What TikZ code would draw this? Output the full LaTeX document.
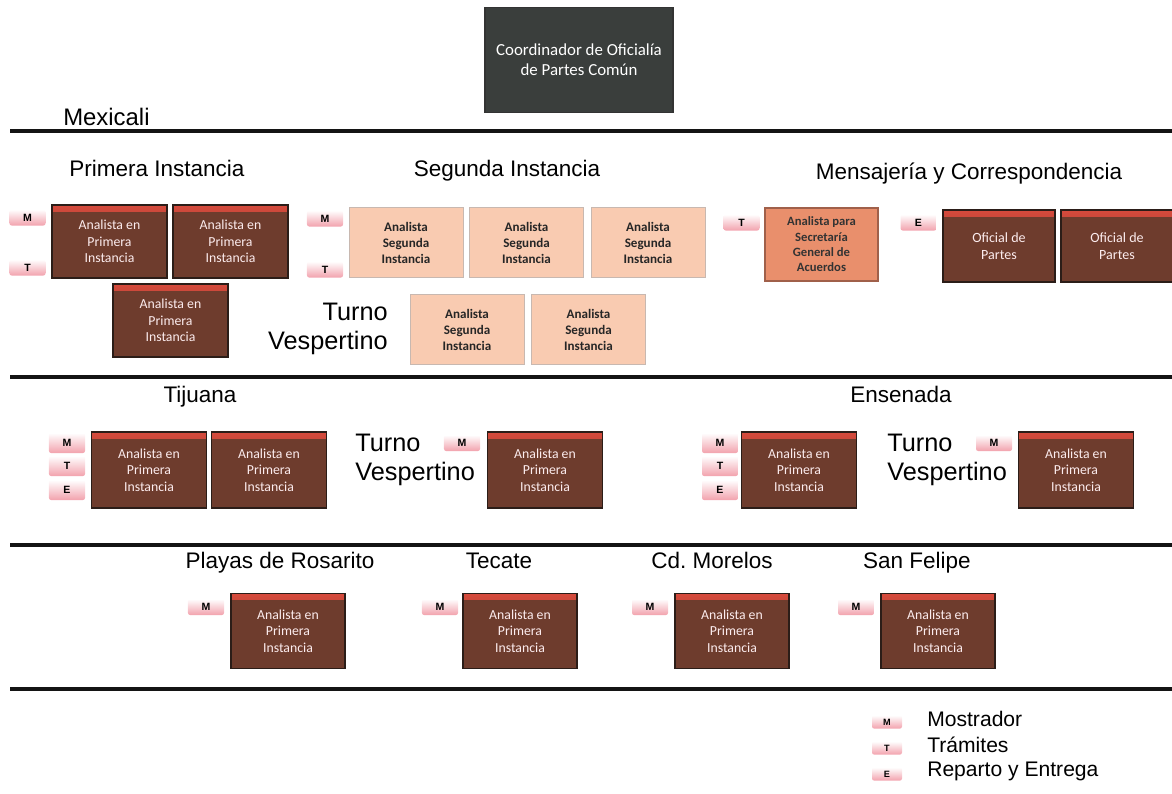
\documentclass[tikz,border=0pt]{standalone}
\usepackage{fontspec}
\setmainfont{Liberation Sans}
\newfontfamily\boxfamily{Carlito}
\usetikzlibrary{positioning}
\frenchspacing

\definecolor{boxbrown}{RGB}{110,60,45}
\definecolor{boxline}{RGB}{43,29,24}
\definecolor{boxred}{RGB}{214,74,60}
\definecolor{boxtext}{RGB}{252,236,238}
\definecolor{segfill}{RGB}{249,203,177}
\definecolor{segline}{RGB}{200,184,176}
\definecolor{sgafill}{RGB}{233,143,108}
\definecolor{sgaline}{RGB}{160,96,74}
\definecolor{coordfill}{RGB}{58,62,60}
\definecolor{badgepink}{RGB}{242,162,173}
\definecolor{sepline}{RGB}{20,20,20}

\begin{document}
\begin{tikzpicture}[x=0.025cm, y=-0.025cm,
    pbox/.style={draw=boxline, fill=boxbrown, line width=0.9pt, minimum width=2.875cm,
        minimum height=1.85cm, inner sep=1pt, align=center, text=boxtext,
        font=\boxfamily\fontsize{9.8}{11.7}\selectfont,
        path picture={\shade[top color=boxred, bottom color=boxbrown]
            (path picture bounding box.north west) rectangle ([yshift=-4.5pt]path picture bounding box.north east);}},
    segbox/.style={draw=segline, fill=segfill, line width=0.6pt, minimum width=2.85cm,
        minimum height=1.75cm, inner sep=1pt, align=center, text=black!85,
        font=\boxfamily\bfseries\fontsize{9.3}{11.4}\selectfont},
    badge/.style={top color=white, bottom color=badgepink, rounded corners=1.5pt,
        minimum width=0.9cm, minimum height=0.4cm, inner sep=0pt,
        font=\bfseries\fontsize{7.5}{7.5}\selectfont},
    keybadge/.style={badge, minimum width=0.75cm, minimum height=0.33cm,
        font=\bfseries\fontsize{6.5}{6.5}\selectfont},
    heading/.style={font=\fontsize{16}{19}\selectfont, text height=12pt, text depth=3.5pt},
    turno/.style={align=left, font=\fontsize{18}{21}\selectfont, inner sep=0pt},
    sep/.style={draw=sepline, line width=2.6pt}]

    \useasboundingbox (0,0) rectangle (1172,794);

    % Coordinator
    \node[draw=black!80, fill=coordfill, line width=0.9pt, minimum width=4.7cm, minimum height=2.625cm,
        align=center, text=white, font=\boxfamily\fontsize{12}{14.5}\selectfont]
        (coord) at (579,60) {Coordinador de Oficialía\\de Partes Común};

    % Separators
    \foreach \y in {131,377,545,689}
        \draw[sep] (10,\y) -- (1172,\y);

    \node[anchor=west, inner sep=0pt, font=\fontsize{17}{20}\selectfont] (mexicali) at (63,117) {Mexicali};

    % Mexicali - Primera Instancia
    \node[heading] (primera) at (157,171) {Primera Instancia};
    \node[badge] (pim) at (27.5,217.5) {M};
    \node[badge] (pit) at (27.5,267.5) {T};
    \foreach \n/\x/\y in {1/109.5/241.5, 2/230.5/241.5, 3/170.5/320.5}
        \node[pbox, minimum height=1.825cm] (pi\n) at (\x,\y) {Analista en\\Primera\\Instancia};

    % Mexicali - Segunda Instancia
    \node[heading] (segunda) at (507,171) {Segunda Instancia};
    \node[badge] (sim) at (325,218.5) {M};
    \node[badge] (sit) at (325,269.5) {T};
    \foreach \n/\x/\y in {1/406/242.5, 2/526.5/242.5, 3/648/242.5, 4/467/329.5, 5/588.5/329.5}
        \node[segbox] (si\n) at (\x,\y) {Analista\\Segunda\\Instancia};
    \node[turno, align=right, anchor=east] (turnoa) at (388,329) {Turno\\Vespertino};

    % Mexicali - Mensajeria
    \node[heading] (mensajeria) at (969,174) {Mensajería y Correspondencia};
    \node[badge] (mct) at (741.5,222.5) {T};
    \node[draw=sgaline, fill=sgafill, line width=0.9pt, minimum width=2.825cm, minimum height=1.825cm,
        inner sep=1pt, align=center, text=black!80, font=\boxfamily\bfseries\fontsize{9}{10.9}\selectfont]
        (sga) at (821.5,244.5) {Analista para\\Secretaría\\General de\\Acuerdos};
    \node[badge] (mce) at (918.5,222.5) {E};
    \foreach \n/\x in {1/999, 2/1117}
        \node[pbox, minimum width=2.8cm, minimum height=1.8cm,
            font=\boxfamily\fontsize{10}{12}\selectfont] (op\n) at (\x,246) {Oficial de\\Partes};

    % Tijuana
    \node[heading] (tijuana) at (200,397) {Tijuana};
    \foreach \l/\y in {M/443, T/466, E/490}
        \node[badge, minimum height=0.5cm] (tj\l) at (67,\y) {\l};
    \foreach \n/\x in {1/149, 2/269, 3/545}
        \node[pbox, minimum height=1.9cm] (tj\n) at (\x,470) {Analista en\\Primera\\Instancia};
    \node[turno, anchor=west] (turnob) at (355,460) {Turno\\Vespertino};
    \node[badge] (tjv) at (462,443) {M};

    % Ensenada
    \node[heading] (ensenada) at (901,397) {Ensenada};
    \foreach \l/\y in {M/443, T/466, E/490}
        \node[badge, minimum height=0.5cm] (en\l) at (720,\y) {\l};
    \foreach \n/\x in {1/799, 2/1076}
        \node[pbox, minimum height=1.9cm] (en\n) at (\x,470) {Analista en\\Primera\\Instancia};
    \node[turno, anchor=west] (turnoc) at (887,460) {Turno\\Vespertino};
    \node[badge] (env) at (994,443) {M};

    % Other towns
    \foreach \n/\name/\hx/\bx/\x in {ro/Playas de Rosarito/280/206/288, te/Tecate/499/440/520,
            cm/Cd. Morelos/712/650/732, sf/San Felipe/917/856/938} {
        \node[heading] (\n head) at (\hx,563) {\name};
        \node[badge] (\n m) at (\bx,607) {M};
        \node[pbox, minimum width=2.85cm, minimum height=1.875cm] (\n box) at (\x,631) {Analista en\\Primera\\Instancia};
    }

    % Legend
    \foreach \l/\txt/\y in {M/Mostrador/719, T/Trámites/745, E/Reparto y Entrega/771} {
        \node[keybadge] (key\l) at (887,\y+3) {\l};
        \node[anchor=west, inner sep=0pt, font=\fontsize{15}{18}\selectfont] (key\l txt) at (927,\y) {\txt};
    }
\end{tikzpicture}
\end{document}
